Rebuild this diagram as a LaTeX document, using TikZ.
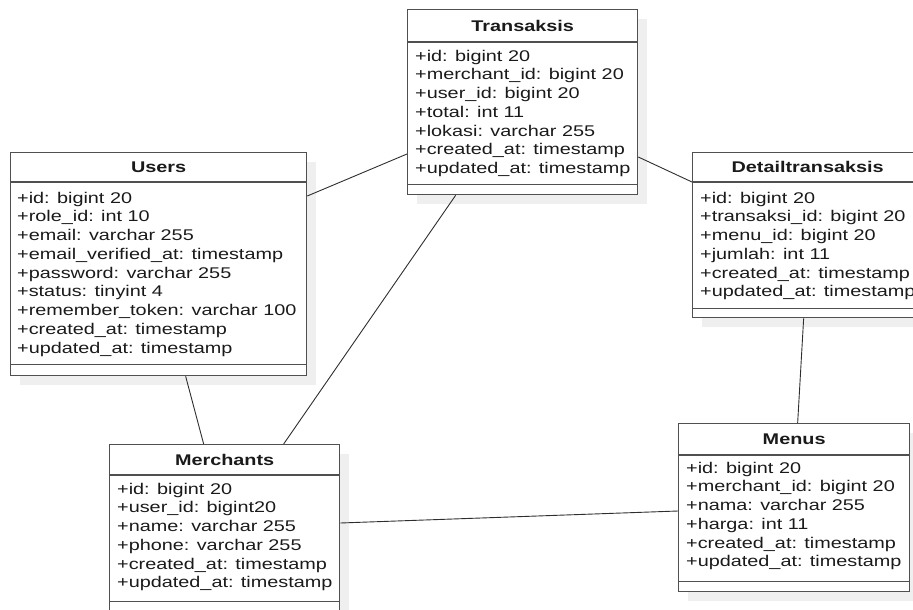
\documentclass[tikz,border=0pt]{standalone}
\usepackage{fontspec}
\setmainfont{Liberation Sans}[FakeStretch=1.28]
\usepackage{xcolor}
\usepackage{tikz}
\usetikzlibrary{shadows}

\definecolor{boxline}{HTML}{505050}
\definecolor{relline}{HTML}{2E2E2E}
\definecolor{shade}{HTML}{EFEFEF}
\definecolor{ink}{HTML}{1A1A1A}

\begin{document}
\begin{tikzpicture}[
    x=1pt, y=-1pt,
    tablebox/.style={rectangle, draw=boxline, line width=1.3pt, fill=white,
                     anchor=north west, inner sep=0pt,
                     drop shadow={shadow xshift=9pt, shadow yshift=-9pt, fill=shade, opacity=1}},
    tabletitle/.style={anchor=base, inner sep=0pt, text=ink,
                       font=\fontsize{15.5}{18.75}\selectfont\bfseries},
    tableattrs/.style={anchor=north west, inner sep=0pt, align=left, text=ink,
                       font=\fontsize{15.5}{18.75}\selectfont},
    compline/.style={draw=boxline, line width=1.3pt},
    relation/.style={draw=relline, line width=0.9pt}
  ]
    \useasboundingbox (0,0) rectangle (913,610);

    % Transaksis
    \node[tablebox, minimum width=230pt, minimum height=185pt] (transaksis) at (407,9) {};
    \node[tabletitle] (transaksisT) at ([yshift=-22.5pt]transaksis.north) {Transaksis};
    \node[tableattrs] (transaksisA) at ([xshift=8pt,yshift=-40.7pt]transaksis.north west)
      {+id: bigint 20\\+merchant\_id: bigint 20\\+user\_id: bigint 20\\+total: int 11\\
       +lokasi: varchar 255\\+created\_at: timestamp\\+updated\_at: timestamp};
    \draw[compline] ([yshift=-33pt]transaksis.north west) -- ([yshift=-33pt]transaksis.north east);
    \draw[compline] ([yshift=11pt]transaksis.south west) -- ([yshift=11pt]transaksis.south east);

    % Users
    \node[tablebox, minimum width=296pt, minimum height=223pt] (users) at (10,152) {};
    \node[tabletitle] (usersT) at ([yshift=-20pt]users.north) {Users};
    \node[tableattrs] (usersA) at ([xshift=7pt,yshift=-39.7pt]users.north west)
      {+id: bigint 20\\+role\_id: int 10\\+email: varchar 255\\+email\_verified\_at: timestamp\\
       +password: varchar 255\\+status: tinyint 4\\+remember\_token: varchar 100\\
       +created\_at: timestamp\\+updated\_at: timestamp};
    \draw[compline] ([yshift=-30pt]users.north west) -- ([yshift=-30pt]users.north east);
    \draw[compline] ([yshift=12pt]users.south west) -- ([yshift=12pt]users.south east);

    % Detailtransaksis
    \node[tablebox, minimum width=230pt, minimum height=165pt] (detail) at (692,152) {};
    \node[tabletitle] (detailT) at ([yshift=-20.5pt]detail.north) {Detailtransaksis};
    \node[tableattrs] (detailA) at ([xshift=8pt,yshift=-39.7pt]detail.north west)
      {+id: bigint 20\\+transaksi\_id: bigint 20\\+menu\_id: bigint 20\\+jumlah: int 11\\
       +created\_at: timestamp\\+updated\_at: timestamp};
    \draw[compline] ([yshift=-30pt]detail.north west) -- ([yshift=-30pt]detail.north east);
    \draw[compline] ([yshift=10pt]detail.south west) -- ([yshift=10pt]detail.south east);

    % Merchants
    \node[tablebox, minimum width=230pt, minimum height=168pt] (merchants) at (109,444) {};
    \node[tabletitle] (merchantsT) at ([yshift=-21pt]merchants.north) {Merchants};
    \node[tableattrs] (merchantsA) at ([xshift=8pt,yshift=-38.7pt]merchants.north west)
      {+id: bigint 20\\+user\_id: bigint20\\+name: varchar 255\\+phone: varchar 255\\
       +created\_at: timestamp\\+updated\_at: timestamp};
    \draw[compline] ([yshift=-31pt]merchants.north west) -- ([yshift=-31pt]merchants.north east);
    \draw[compline] ([yshift=12pt]merchants.south west) -- ([yshift=12pt]merchants.south east);

    % Menus
    \node[tablebox, minimum width=231pt, minimum height=168pt] (menus) at (678,423) {};
    \node[tabletitle] (menusT) at ([yshift=-21.5pt]menus.north) {Menus};
    \node[tableattrs] (menusA) at ([xshift=8pt,yshift=-38.7pt]menus.north west)
      {+id: bigint 20\\+merchant\_id: bigint 20\\+nama: varchar 255\\+harga: int 11\\
       +created\_at: timestamp\\+updated\_at: timestamp};
    \draw[compline] ([yshift=-32pt]menus.north west) -- ([yshift=-32pt]menus.north east);
    \draw[compline] ([yshift=11pt]menus.south west) -- ([yshift=11pt]menus.south east);

    % relations
    \draw[relation] ([yshift=-44pt]users.north east) -- ([yshift=-145pt]transaksis.north west);
    \draw[relation] ([yshift=-148pt]transaksis.north east) -- ([yshift=-30pt]detail.north west);
    \draw[relation] ([xshift=-67pt]transaksis.south) -- ([xshift=59pt]merchants.north);
    \draw[relation] ([xshift=27pt]users.south) -- ([xshift=-21pt]merchants.north);
    \draw[relation] ([xshift=-4pt]detail.south) -- ([xshift=3.5pt]menus.north);
    \draw[relation] ([yshift=-79pt]merchants.north east) -- ([yshift=-88pt]menus.north west);
  \end{tikzpicture}
\end{document}
